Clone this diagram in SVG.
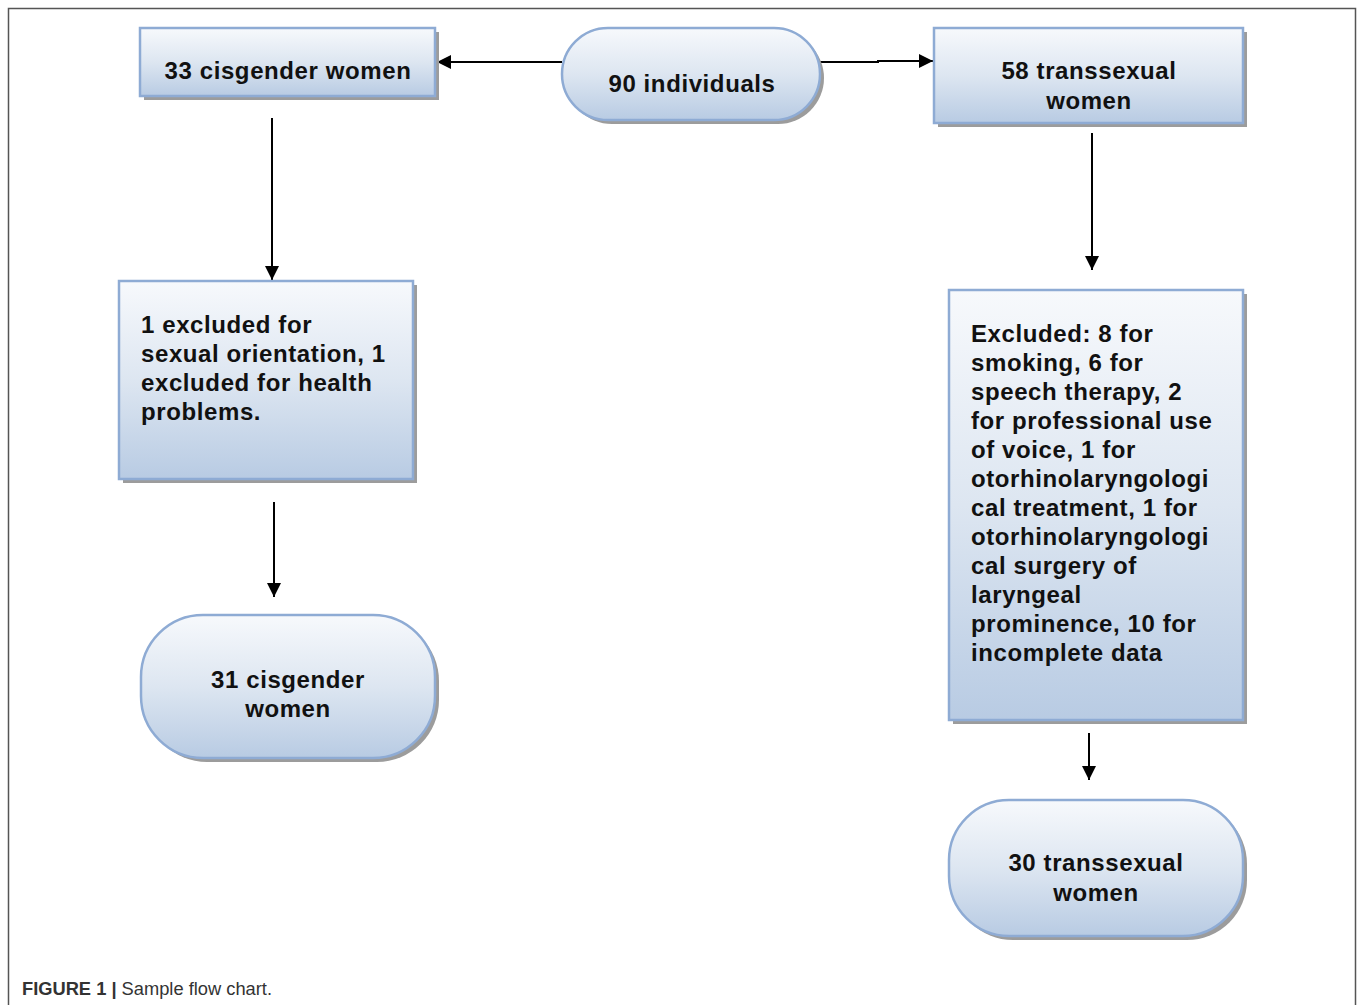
<svg xmlns="http://www.w3.org/2000/svg" width="1358" height="1005" viewBox="0 0 1358 1005">
<defs>
<linearGradient id="g" x1="0" y1="0" x2="0" y2="1">
<stop offset="0" stop-color="#f7f9fc"/>
<stop offset="0.5" stop-color="#dde6f1"/>
<stop offset="1" stop-color="#b8cbe3"/>
</linearGradient>
<marker id="ah" viewBox="0 0 10 10" refX="10" refY="5" markerWidth="14" markerHeight="14" markerUnits="userSpaceOnUse" orient="auto">
<path d="M0,0 L10,5 L0,10 Z" fill="#000"/>
</marker>
<style>
.box{fill:url(#g);stroke:#8eabd4;stroke-width:2.5}
.sh{fill:#9c9c9c;stroke:none}
.t{font-family:"Liberation Sans",Arial,sans-serif;font-weight:bold;font-size:24px;letter-spacing:0.6px;fill:#111}
.c{text-anchor:middle}
.conn{stroke:#000;stroke-width:2;fill:none;marker-end:url(#ah)}
</style>
</defs>
<rect width="1358" height="1005" fill="#fff"/>
<path d="M8.5,1005 V8.5 H1355.5 V1005" fill="none" stroke="#555" stroke-width="1.5"/>
<g id="connectors">
<path class="conn" d="M562,62 H437"/>
<path class="conn" d="M820,62 H878 V61 H933"/>
<path class="conn" d="M272,118 V280"/>
<path class="conn" d="M274,502 V597"/>
<path class="conn" d="M1092,133 V270"/>
<path class="conn" d="M1089,733 V780"/>
</g>
<g id="n33">
<rect class="sh" x="144" y="32" width="295" height="68"/>
<rect class="box" x="140" y="28" width="295" height="68"/>
<text class="t c" x="288" y="79">33 cisgender women</text>
</g>
<g id="n90">
<rect class="sh" x="566" y="32" width="258" height="92" rx="46" ry="46"/>
<rect class="box" x="562" y="28" width="258" height="92" rx="46" ry="46"/>
<text class="t c" x="692" y="92">90 individuals</text>
</g>
<g id="n58">
<rect class="sh" x="938" y="32" width="309" height="95"/>
<rect class="box" x="934" y="28" width="309" height="95"/>
<text class="t c" x="1089" y="79">58 transsexual</text>
<text class="t c" x="1089" y="109">women</text>
</g>
<g id="excl1">
<rect class="sh" x="123" y="285" width="294" height="198"/>
<rect class="box" x="119" y="281" width="294" height="198"/>
<text class="t" x="141" y="333">1 excluded for</text>
<text class="t" x="141" y="362">sexual orientation, 1</text>
<text class="t" x="141" y="391">excluded for health</text>
<text class="t" x="141" y="420">problems.</text>
</g>
<g id="n31">
<rect class="sh" x="145" y="619" width="294" height="143" rx="62" ry="62"/>
<rect class="box" x="141" y="615" width="294" height="143" rx="62" ry="62"/>
<text class="t c" x="288" y="688">31 cisgender</text>
<text class="t c" x="288" y="717">women</text>
</g>
<g id="excl2">
<rect class="sh" x="953" y="294" width="294" height="430"/>
<rect class="box" x="949" y="290" width="294" height="430"/>
<text class="t" x="971" y="342">Excluded: 8 for</text>
<text class="t" x="971" y="371">smoking, 6 for</text>
<text class="t" x="971" y="400">speech therapy, 2</text>
<text class="t" x="971" y="429">for professional use</text>
<text class="t" x="971" y="458">of voice, 1 for</text>
<text class="t" x="971" y="487">otorhinolaryngologi</text>
<text class="t" x="971" y="516">cal treatment, 1 for</text>
<text class="t" x="971" y="545">otorhinolaryngologi</text>
<text class="t" x="971" y="574">cal surgery of</text>
<text class="t" x="971" y="603">laryngeal</text>
<text class="t" x="971" y="632">prominence, 10 for</text>
<text class="t" x="971" y="661">incomplete data</text>
</g>
<g id="n30">
<rect class="sh" x="953" y="804" width="294" height="136" rx="60" ry="60"/>
<rect class="box" x="949" y="800" width="294" height="136" rx="60" ry="60"/>
<text class="t c" x="1096" y="871">30 transsexual</text>
<text class="t c" x="1096" y="901">women</text>
</g>
<text x="22" y="995" font-family="'Liberation Sans',Arial,sans-serif" font-size="18.3" fill="#333"><tspan font-weight="bold">FIGURE 1 |</tspan> Sample flow chart.</text>
</svg>
